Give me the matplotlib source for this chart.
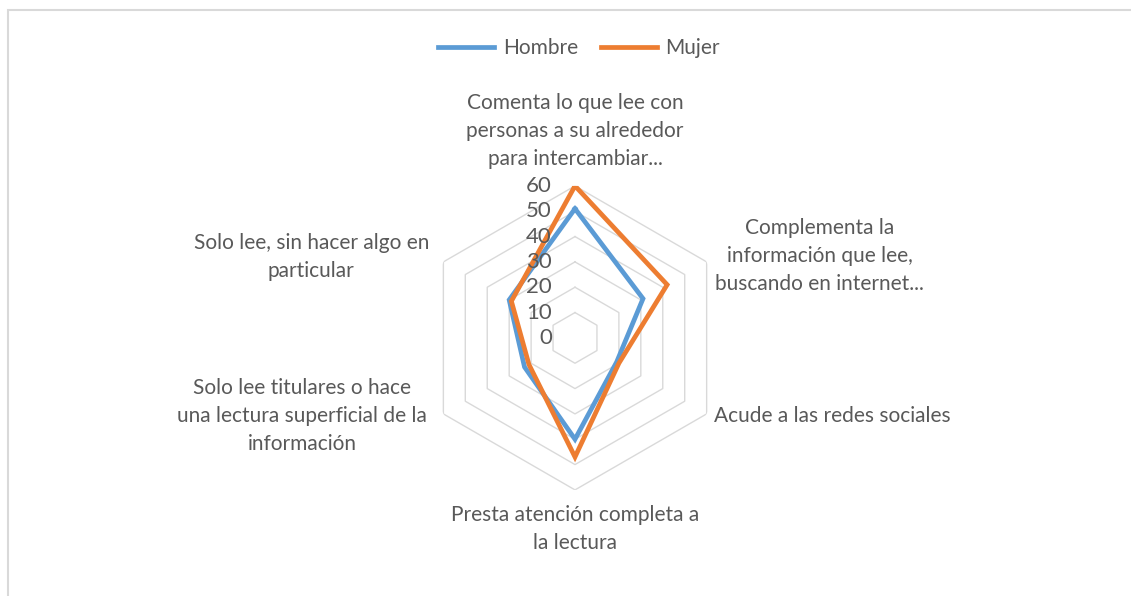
import numpy as np
import matplotlib
matplotlib.use("Agg")
import matplotlib.pyplot as plt
from matplotlib.patches import Rectangle
from matplotlib.lines import Line2D

# data
categorias = [
    "Comenta lo que lee con\npersonas a su alrededor\npara intercambiar...",
    "Complementa la\ninformación que lee,\nbuscando en internet...",
    "Acude a las redes sociales",
    "Presta atención completa a\nla lectura",
    "Solo lee titulares o hace\nuna lectura superficial de la\ninformación",
    "Solo lee, sin hacer algo en\nparticular",
]
hombre = [51, 31, 19, 40, 23, 30]
mujer = [60, 42, 20, 47, 21, 29]
ticks = [0, 10, 20, 30, 40, 50, 60]

azul = "#5B9BD5"
naranja = "#ED7D31"
gris_txt = "#595959"
gris_grid = "#D9D9D9"

plt.rcParams['font.family'] = ['Lato', 'DejaVu Sans']
fs = 15

fig = plt.figure(figsize=(11.31, 5.96), dpi=100)
fig.patch.set_facecolor("white")

# chart border (only top and left visible in the reference)
fig.patches.append(Rectangle((8 / 1131, -0.05), 1.2, 1.05 - 10 / 596,
                             transform=fig.transFigure, fill=False,
                             edgecolor=gris_grid, linewidth=1.5))

ax = fig.add_axes([0.374, 0.178, 0.2688, 0.5101], projection="polar")
ax.set_theta_offset(np.pi / 2)
ax.set_theta_direction(-1)
ax.set_ylim(0, 60)
ax.grid(False)
ax.spines["polar"].set_visible(False)
ax.set_xticks([])
ax.set_yticks([])
ax.patch.set_alpha(0)

n = len(categorias)
ang = np.linspace(0, 2 * np.pi, n, endpoint=False)
ang_c = np.append(ang, ang[0])

# hexagonal gridlines
for t in ticks[1:]:
    ax.plot(ang_c, [t] * (n + 1), color=gris_grid, linewidth=1.0, zorder=1)

# radial tick labels
for t in ticks:
    ax.annotate(str(t), xy=(0, t), xytext=(-23, 0), textcoords="offset pixels",
                ha="right", va="center", fontsize=fs + 1, color=gris_txt, zorder=5)

ax.plot(ang_c, hombre + hombre[:1], color=azul, linewidth=3.4, zorder=3,
        solid_joinstyle="miter")
ax.plot(ang_c, mujer + mujer[:1], color=naranja, linewidth=3.4, zorder=4,
        solid_joinstyle="miter")

# category labels
offsets = [(0, 55, "center"), (113, 6, "center"), (7, -2, "left"),
           (0, -39, "center"), (-141, -2, "center"), (-132, 5, "center")]
for a, lab, (dx, dy, ha) in zip(ang, categorias, offsets):
    ax.annotate(lab, xy=(a, 60), xytext=(dx, dy), textcoords="offset pixels",
                ha=ha, va="center", multialignment="center", fontsize=fs,
                color=gris_txt, linespacing=1.5, annotation_clip=False)

handles = [Line2D([], [], color=azul, linewidth=3.4),
           Line2D([], [], color=naranja, linewidth=3.4)]
fig.legend(handles, ["Hombre", "Mujer"], loc="center", bbox_to_anchor=(0.512, 0.919),
           ncol=2, frameon=False, fontsize=fs, handlelength=2.7,
           columnspacing=1.1, handletextpad=0.4, labelcolor=gris_txt)

fig.savefig("out.png", dpi=100)
